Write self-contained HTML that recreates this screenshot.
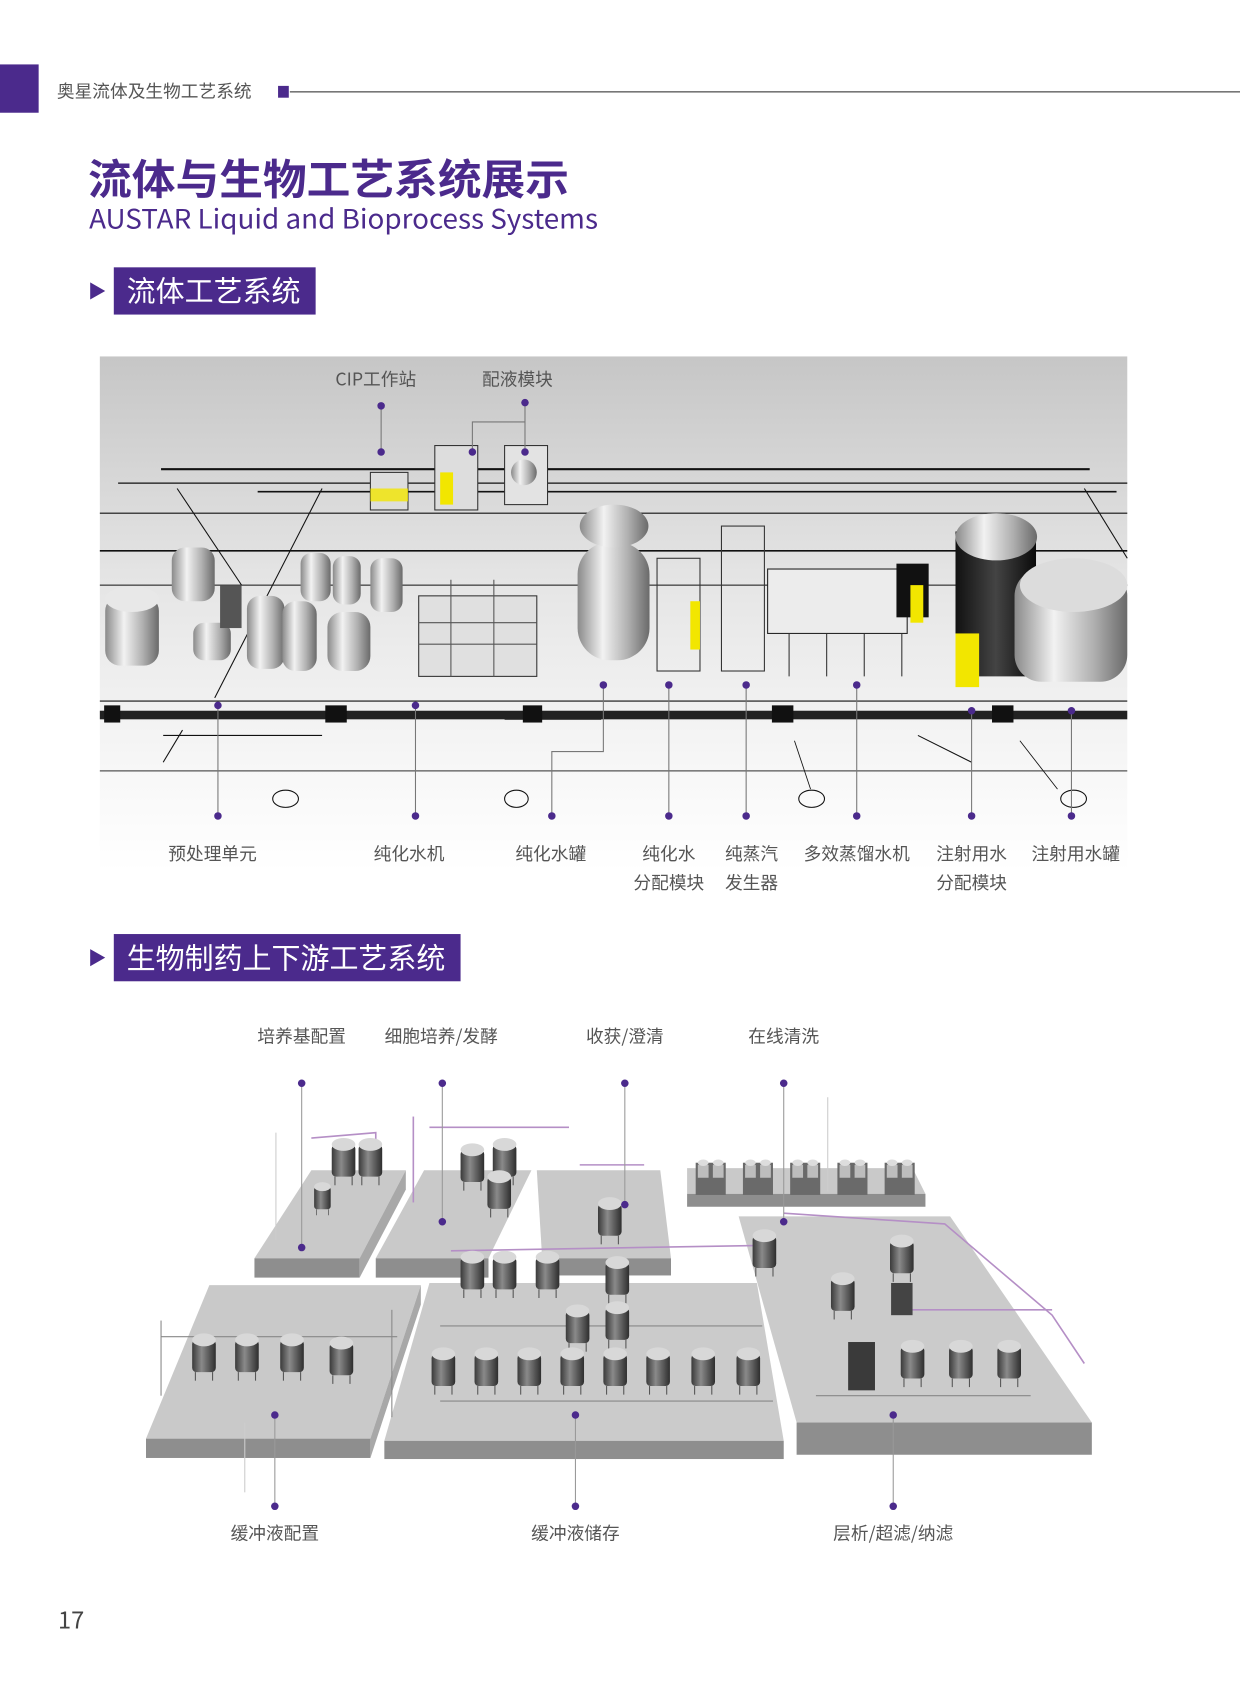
<!DOCTYPE html>
<html><head><meta charset="utf-8"><style>
html,body{margin:0;padding:0;background:#fff;width:1240px;height:1683px;overflow:hidden}
svg{display:block}
text{font-family:"Noto Sans CJK SC","Liberation Sans",sans-serif}
</style></head><body>
<svg width="1240" height="1683" viewBox="0 0 1155 1567.6" preserveAspectRatio="none" xmlns="http://www.w3.org/2000/svg">
<defs>
<linearGradient id="bg1" x1="0" y1="0" x2="0" y2="1">
<stop offset="0" stop-color="#c6c6c6"/><stop offset="0.45" stop-color="#e6e6e6"/><stop offset="0.8" stop-color="#f7f7f7"/><stop offset="1" stop-color="#ffffff"/>
</linearGradient>
<linearGradient id="tank" x1="0" y1="0" x2="1" y2="0">
<stop offset="0" stop-color="#8a8a8a"/><stop offset="0.35" stop-color="#f2f2f2"/><stop offset="0.7" stop-color="#b0b0b0"/><stop offset="1" stop-color="#6a6a6a"/>
</linearGradient>
<linearGradient id="dtank" x1="0" y1="0" x2="1" y2="0">
<stop offset="0" stop-color="#111"/><stop offset="0.5" stop-color="#444"/><stop offset="1" stop-color="#0a0a0a"/>
</linearGradient>
<linearGradient id="btank" x1="0" y1="0" x2="1" y2="0">
<stop offset="0" stop-color="#3a3a3a"/><stop offset="0.4" stop-color="#8a8a8a"/><stop offset="1" stop-color="#2e2e2e"/>
</linearGradient>
<g id="t2"><rect x="-11" y="-14" width="22" height="30" rx="4" fill="url(#btank)"/><ellipse cx="0" cy="-14" rx="11" ry="6" fill="#d8d8d8"/><line x1="-8" y1="16" x2="-8" y2="24" stroke="#555"/><line x1="8" y1="16" x2="8" y2="24" stroke="#555"/></g>
<g id="eq"><rect x="-14" y="-14" width="28" height="30" fill="#6a6a6a"/><rect x="-12" y="-12" width="10" height="12" fill="#bdbdbd"/><rect x="2" y="-12" width="10" height="12" fill="#bdbdbd"/><ellipse cx="-7" cy="-14" rx="5" ry="3" fill="#ddd"/><ellipse cx="7" cy="-14" rx="5" ry="3" fill="#ddd"/></g>
</defs>

<rect x="0" y="60" width="36" height="45" fill="#4b2a8c"/>
<text x="53" y="91" font-size="16.5" fill="#555">奥星流体及生物工艺系统</text>
<rect x="259" y="80" width="10" height="11" fill="#4b2a8c"/>
<line x1="270" y1="85.5" x2="1155" y2="85.5" stroke="#777" stroke-width="1.5"/>

<text x="82" y="181" font-size="39" font-weight="bold" fill="#4b2a8c" textLength="448" lengthAdjust="spacingAndGlyphs">流体与生物工艺系统展示</text>
<text x="83" y="213" font-size="25" fill="#4b2a8c" textLength="474" lengthAdjust="spacingAndGlyphs">AUSTAR Liquid and Bioprocess Systems</text>

<polygon points="84,263 84,279 98,271" fill="#4b2a8c"/>
<rect x="106" y="249" width="188" height="44" fill="#4b2a8c"/>
<text x="118" y="281" font-size="27" fill="#fff">流体工艺系统</text>

<rect x="93" y="332" width="957" height="480" fill="url(#bg1)"/>
<g stroke="#111" fill="none">
<line x1="150" y1="437" x2="1015" y2="437" stroke-width="2"/>
<line x1="110" y1="450" x2="1050" y2="450" stroke-width="1.2"/>
<line x1="240" y1="458" x2="1040" y2="458" stroke-width="1.5"/>
<line x1="93" y1="478" x2="1050" y2="478" stroke-width="1"/>
<line x1="93" y1="513" x2="1050" y2="513" stroke-width="1.5"/>
<line x1="93" y1="545" x2="1050" y2="545" stroke-width="1"/>
<line x1="93" y1="653" x2="1050" y2="653" stroke-width="1"/>
<line x1="93" y1="718" x2="1050" y2="718" stroke-width="1.2" stroke="#555"/>
<line x1="165" y1="455" x2="225" y2="545" stroke-width="1"/>
<line x1="300" y1="455" x2="200" y2="650" stroke-width="1"/>
<line x1="1010" y1="455" x2="1050" y2="520" stroke-width="1"/>
<line x1="152" y1="685" x2="300" y2="685" stroke-width="1"/>
<line x1="152" y1="710" x2="170" y2="680" stroke-width="1"/>
<line x1="855" y1="685" x2="905" y2="710" stroke-width="1"/>
<line x1="470" y1="670" x2="560" y2="670" stroke-width="0.8"/>
<line x1="740" y1="690" x2="755" y2="735" stroke-width="0.8"/>
<line x1="950" y1="690" x2="985" y2="735" stroke-width="0.8"/>
<ellipse cx="266" cy="744" rx="12" ry="8"/>
<ellipse cx="481" cy="744" rx="11" ry="8"/>
<ellipse cx="756" cy="744" rx="12" ry="8"/>
<ellipse cx="1000" cy="744" rx="12" ry="8"/>
</g>
<rect x="93" y="662" width="957" height="8" fill="#222"/>
<g fill="#111"><rect x="97" y="657" width="15" height="16"/><rect x="303" y="657" width="20" height="16"/><rect x="487" y="657" width="18" height="16"/><rect x="719" y="657" width="20" height="16"/><rect x="924" y="657" width="20" height="16"/></g>
<g>
<rect x="98" y="555" width="50" height="65" rx="14" fill="url(#tank)"/><ellipse cx="123" cy="558" rx="25" ry="12" fill="#e8e8e8"/>
<rect x="160" y="510" width="40" height="50" rx="12" fill="url(#tank)"/>
<rect x="180" y="580" width="35" height="35" rx="10" fill="url(#tank)"/>
<rect x="230" y="555" width="35" height="68" rx="12" fill="url(#tank)"/>
<rect x="263" y="560" width="32" height="65" rx="12" fill="url(#tank)"/>
<rect x="305" y="570" width="40" height="55" rx="14" fill="url(#tank)"/>
<rect x="280" y="515" width="28" height="45" rx="10" fill="url(#tank)"/>
<rect x="310" y="518" width="26" height="45" rx="10" fill="url(#tank)"/>
<rect x="345" y="520" width="30" height="50" rx="10" fill="url(#tank)"/>
<rect x="205" y="545" width="20" height="40" fill="#555"/>
<rect x="390" y="555" width="110" height="75" fill="#e0e0e0" stroke="#333" stroke-width="1"/>
<g stroke="#555" stroke-width="1"><line x1="390" y1="580" x2="500" y2="580"/><line x1="390" y1="600" x2="500" y2="600"/><line x1="420" y1="540" x2="420" y2="630"/><line x1="460" y1="540" x2="460" y2="630"/></g>
<rect x="538" y="505" width="67" height="110" rx="30" fill="url(#tank)"/>
<ellipse cx="572" cy="490" rx="32" ry="20" fill="url(#tank)"/>
<rect x="612" y="520" width="40" height="105" fill="none" stroke="#333"/>
<rect x="643" y="560" width="9" height="45" fill="#f2e600"/>
<rect x="672" y="490" width="40" height="135" fill="none" stroke="#333"/>
<rect x="715" y="530" width="130" height="60" fill="#ececec" stroke="#222"/>
<g stroke="#333"><line x1="735" y1="590" x2="735" y2="630"/><line x1="770" y1="590" x2="770" y2="630"/><line x1="805" y1="590" x2="805" y2="630"/><line x1="840" y1="590" x2="840" y2="630"/></g>
<rect x="835" y="525" width="30" height="50" fill="#111"/>
<rect x="848" y="545" width="12" height="35" fill="#f2e600"/>
<rect x="890" y="495" width="75" height="135" fill="url(#dtank)"/>
<ellipse cx="928" cy="500" rx="38" ry="22" fill="url(#tank)"/>
<rect x="890" y="590" width="22" height="50" fill="#f2e600"/>
<rect x="945" y="530" width="105" height="105" rx="25" fill="url(#tank)"/>
<ellipse cx="1000" cy="545" rx="50" ry="25" fill="#dcdcdc"/>
<rect x="345" y="440" width="35" height="35" fill="#ddd" stroke="#333"/><rect x="345" y="455" width="35" height="12" fill="#f2e600" opacity="0.8"/>
<rect x="405" y="415" width="40" height="60" fill="#ddd" stroke="#333"/><rect x="410" y="440" width="12" height="30" fill="#f2e600"/>
<rect x="470" y="415" width="40" height="55" fill="#e3e3e3" stroke="#333"/><ellipse cx="488" cy="440" rx="12" ry="12" fill="url(#tank)"/>
</g>
<g stroke="#777" stroke-width="1" fill="none">
<line x1="355" y1="378" x2="355" y2="421"/>
<line x1="489" y1="375" x2="489" y2="421"/>
<polyline points="440,421 440,393 489,393"/>
<line x1="203" y1="657" x2="203" y2="760"/>
<line x1="387" y1="657" x2="387" y2="760"/>
<polyline points="562,638 562,700 514,700 514,760"/>
<line x1="623" y1="638" x2="623" y2="760"/>
<line x1="695" y1="638" x2="695" y2="760"/>
<line x1="798" y1="638" x2="798" y2="760"/>
<line x1="905" y1="662" x2="905" y2="760"/>
<line x1="998" y1="662" x2="998" y2="760"/>
</g>
<g fill="#4b2a8c">
<circle cx="355" cy="378" r="3.5"/><circle cx="355" cy="421" r="3.5"/>
<circle cx="489" cy="375" r="3.5"/><circle cx="489" cy="421" r="3.5"/><circle cx="440" cy="421" r="3.5"/>
<circle cx="203" cy="657" r="3.5"/><circle cx="203" cy="760" r="3.5"/>
<circle cx="387" cy="657" r="3.5"/><circle cx="387" cy="760" r="3.5"/>
<circle cx="562" cy="638" r="3.5"/><circle cx="514" cy="760" r="3.5"/>
<circle cx="623" cy="638" r="3.5"/><circle cx="623" cy="760" r="3.5"/>
<circle cx="695" cy="638" r="3.5"/><circle cx="695" cy="760" r="3.5"/>
<circle cx="798" cy="638" r="3.5"/><circle cx="798" cy="760" r="3.5"/>
<circle cx="905" cy="662" r="3.5"/><circle cx="905" cy="760" r="3.5"/>
<circle cx="998" cy="662" r="3.5"/><circle cx="998" cy="760" r="3.5"/>
</g>
<g font-size="16.5" fill="#555" text-anchor="middle">
<text x="350" y="359">CIP工作站</text>
<text x="482" y="359">配液模块</text>
<text x="198" y="801">预处理单元</text>
<text x="381" y="801">纯化水机</text>
<text x="513" y="801">纯化水罐</text>
<text x="623" y="801">纯化水</text><text x="623" y="828">分配模块</text>
<text x="700" y="801">纯蒸汽</text><text x="700" y="828">发生器</text>
<text x="798" y="801">多效蒸馏水机</text>
<text x="905" y="801">注射用水</text><text x="905" y="828">分配模块</text>
<text x="1002" y="801">注射用水罐</text>
</g>

<polygon points="84,884 84,900 98,892" fill="#4b2a8c"/>
<rect x="106" y="870" width="323" height="44" fill="#4b2a8c"/>
<text x="118" y="902" font-size="27" fill="#fff">生物制药上下游工艺系统</text>

<g>
<polygon points="290,1090 378,1090 335,1172 237,1172" fill="#c9c9c9"/><rect x="237" y="1172" width="98" height="18" fill="#8e8e8e"/>
<polygon points="378,1090 335,1172 335,1190 378,1108" fill="#a8a8a8"/>
<polygon points="395,1090 495,1090 455,1172 350,1172" fill="#c9c9c9"/><rect x="350" y="1172" width="105" height="18" fill="#8e8e8e"/>
<polygon points="500,1090 615,1090 625,1172 505,1172" fill="#c9c9c9"/><rect x="505" y="1172" width="120" height="16" fill="#8e8e8e"/>
<polygon points="640,1088 850,1088 862,1112 640,1112" fill="#c9c9c9"/><rect x="640" y="1112" width="222" height="12" fill="#8e8e8e"/>
<polygon points="688,1133 885,1133 1017,1325 742,1325" fill="#cbcbcb"/><rect x="742" y="1325" width="275" height="30" fill="#8e8e8e"/>
<polygon points="400,1195 705,1195 730,1342 358,1342" fill="#cbcbcb"/><rect x="358" y="1342" width="372" height="17" fill="#8e8e8e"/>
<polygon points="195,1197 392,1197 345,1340 136,1340" fill="#c9c9c9"/><rect x="136" y="1340" width="209" height="18" fill="#8e8e8e"/>
<polygon points="392,1197 345,1340 345,1358 392,1215" fill="#a8a8a8"/>
</g>
<g stroke="#b58fc6" stroke-width="1.5" fill="none">
<polyline points="290,1060 350,1055 350,1090"/><polyline points="385,1040 385,1120"/><polyline points="400,1050 530,1050"/>
<polyline points="730,1130 880,1140 980,1225 1010,1270"/><polyline points="420,1165 710,1160"/>
<polyline points="540,1085 600,1085"/><polyline points="845,1220 980,1220"/>
</g>
<g stroke="#888" stroke-width="1" fill="none">
<polyline points="150,1245 370,1245"/><polyline points="410,1235 710,1235"/><polyline points="410,1305 720,1305"/><polyline points="760,1300 960,1300"/>
<polyline points="150,1230 150,1300"/><polyline points="365,1220 365,1320"/>
</g>
<use href="#t2" x="320" y="1080"/><use href="#t2" x="345" y="1080"/>
<use href="#t2" x="300" y="1115" transform="scale(0.7) translate(129 478)"/>
<use href="#t2" x="440" y="1085"/><use href="#t2" x="470" y="1080"/><use href="#t2" x="465" y="1110"/>
<use href="#t2" x="440" y="1185"/><use href="#t2" x="470" y="1185"/><use href="#t2" x="510" y="1185"/>
<use href="#t2" x="568" y="1135"/><use href="#t2" x="575" y="1190"/>
<use href="#t2" x="538" y="1235"/><use href="#t2" x="575" y="1232"/>
<use href="#t2" x="190" y="1262"/><use href="#t2" x="230" y="1262"/><use href="#t2" x="272" y="1262"/><use href="#t2" x="318" y="1265"/>
<use href="#t2" x="413" y="1275"/><use href="#t2" x="453" y="1275"/><use href="#t2" x="493" y="1275"/><use href="#t2" x="533" y="1275"/><use href="#t2" x="573" y="1275"/><use href="#t2" x="613" y="1275"/><use href="#t2" x="655" y="1275"/><use href="#t2" x="697" y="1275"/>
<use href="#t2" x="712" y="1165"/><use href="#t2" x="785" y="1205"/><use href="#t2" x="840" y="1170"/>
<use href="#t2" x="850" y="1268"/><use href="#t2" x="895" y="1268"/><use href="#t2" x="940" y="1268"/>
<rect x="790" y="1250" width="25" height="45" fill="#3a3a3a"/><rect x="830" y="1195" width="20" height="30" fill="#444"/>
<use href="#eq" x="662" y="1097"/><use href="#eq" x="706" y="1097"/><use href="#eq" x="750" y="1097"/><use href="#eq" x="794" y="1097"/><use href="#eq" x="838" y="1097"/>
<g stroke="#999" stroke-width="1" fill="none">
<line x1="281" y1="1009" x2="281" y2="1162"/>
<line x1="412" y1="1009" x2="412" y2="1138"/>
<line x1="582" y1="1009" x2="582" y2="1122"/>
<line x1="730" y1="1009" x2="730" y2="1138"/>
<line x1="256" y1="1318" x2="256" y2="1403"/>
<line x1="536" y1="1318" x2="536" y2="1403"/>
<line x1="832" y1="1318" x2="832" y2="1403"/>
<line x1="257" y1="1055" x2="257" y2="1155" stroke="#ccc"/>
<line x1="228" y1="1325" x2="228" y2="1390" stroke="#ccc"/>
<line x1="771" y1="1022" x2="771" y2="1110" stroke="#ccc"/>
</g>
<g fill="#4b2a8c">
<circle cx="281" cy="1009" r="3.5"/><circle cx="281" cy="1162" r="3.5"/>
<circle cx="412" cy="1009" r="3.5"/><circle cx="412" cy="1138" r="3.5"/>
<circle cx="582" cy="1009" r="3.5"/><circle cx="582" cy="1122" r="3.5"/>
<circle cx="730" cy="1009" r="3.5"/><circle cx="730" cy="1138" r="3.5"/>
<circle cx="256" cy="1318" r="3.5"/><circle cx="256" cy="1403" r="3.5"/>
<circle cx="536" cy="1318" r="3.5"/><circle cx="536" cy="1403" r="3.5"/>
<circle cx="832" cy="1318" r="3.5"/><circle cx="832" cy="1403" r="3.5"/>
</g>
<g font-size="16.5" fill="#555" text-anchor="middle">
<text x="281" y="971">培养基配置</text>
<text x="411" y="971">细胞培养/发酵</text>
<text x="582" y="971">收获/澄清</text>
<text x="730" y="971">在线清洗</text>
<text x="256" y="1434">缓冲液配置</text>
<text x="536" y="1434">缓冲液储存</text>
<text x="832" y="1434">层析/超滤/纳滤</text>
</g>
<text x="54" y="1517" font-size="22" fill="#444">17</text>
</svg>
</body></html>
